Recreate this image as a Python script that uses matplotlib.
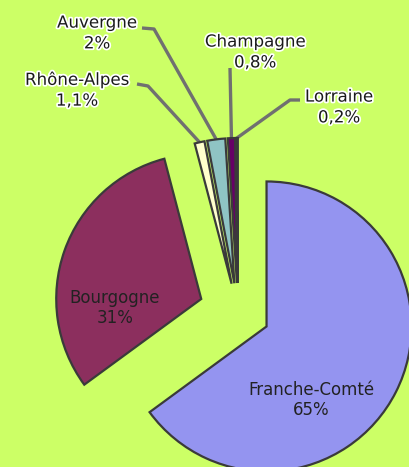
import matplotlib.pyplot as plt
import matplotlib.patheffects as pe
import numpy as np

# données du graphique
regions = ["Franche-Comté", "Bourgogne", "Rhône-Alpes", "Auvergne", "Champagne", "Lorraine"]
shares = [65, 31, 1.1, 2, 0.8, 0.2]
pct_labels = ["65%", "31%", "1,1%", "2%", "0,8%", "0,2%"]
colors = ["#9494f0", "#8c2f5e", "#ffffcc", "#8fc4c4", "#660066", "#ff8080"]

H = 467    # hauteur en pixels, pour placer les textes depuis le haut
R = 145    # rayon en pixels
# décalage des parts (en pixels, pie() l'applique en unités de données)
explode = [32, 39, 29, 29, 29, 29]

fig = plt.figure(figsize=(4.10, 4.67), dpi=100)
fig.patch.set_facecolor("#ccff66")
ax = fig.add_axes([0, 0, 1, 1])

wedges, _ = ax.pie(shares, explode=explode, colors=colors, startangle=90,
                   counterclock=False, center=(238, H - 312), radius=R,
                   wedgeprops=dict(edgecolor="#3a3a3a", linewidth=1.6))
ax.set_xlim(0, 410)
ax.set_ylim(0, H)
ax.set_aspect("equal")
ax.axis("off")

# étiquettes dans les grandes parts
inner = {0: (311, 400), 1: (115, 308)}
for i, (x, y) in inner.items():
    ax.text(x, H - y, regions[i] + "\n" + pct_labels[i], ha="center", va="center",
            fontsize=12, color="#222222", linespacing=1.15)

# étiquettes extérieures avec lignes de rappel
outer = {
    2: ((77, 90), [(137, 84), (148, 86)]),
    3: ((97, 33), [(142, 28), (154, 29)]),
    4: ((255, 52), [(230, 68)]),
    5: ((339, 107), [(300, 100), (290, 100)]),
}
halo = [pe.withStroke(linewidth=2.5, foreground="white")]
for i, ((x, y), pts) in outer.items():
    ax.text(x, H - y, regions[i] + "\n" + pct_labels[i], ha="center", va="center",
            fontsize=12, color="#1a1a1a", linespacing=1.2, path_effects=halo)
    w = wedges[i]
    mid = np.radians((w.theta1 + w.theta2) / 2)
    anchor = (w.center[0] + w.r * np.cos(mid), w.center[1] + w.r * np.sin(mid))
    xs = [p[0] for p in pts] + [anchor[0]]
    ys = [H - p[1] for p in pts] + [anchor[1]]
    ax.plot(xs, ys, color="#707070", lw=2.4, solid_capstyle="butt", zorder=0.5)

plt.savefig("out.png", dpi=100, facecolor=fig.get_facecolor())
